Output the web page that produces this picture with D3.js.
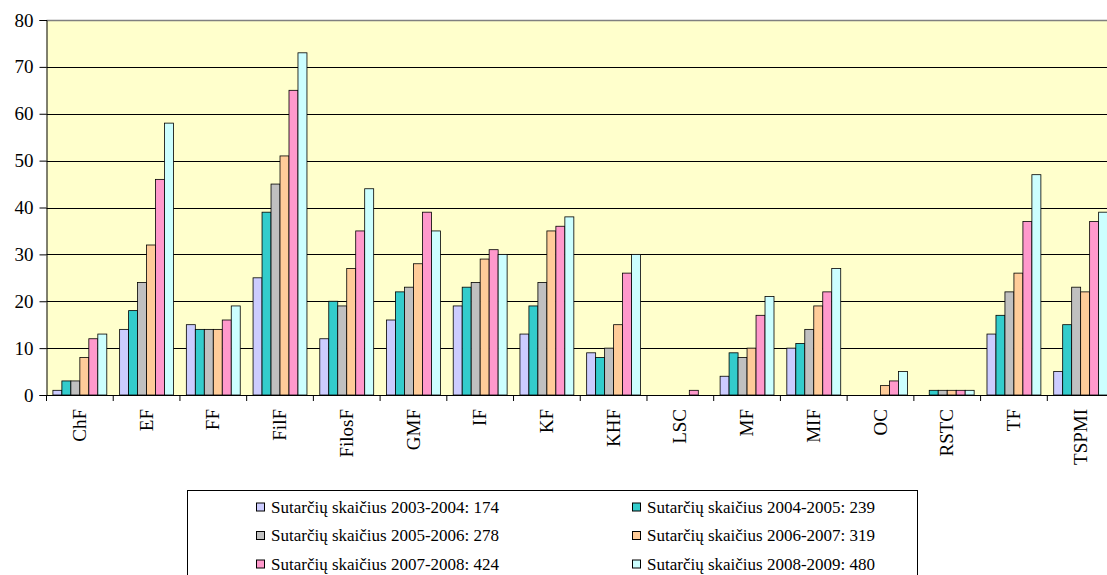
<!DOCTYPE html>
<html>
<head>
<meta charset="utf-8">
<script src="https://cdn.jsdelivr.net/npm/d3@7"></script>
<style>
  html, body { margin: 0; padding: 0; background: #fff; overflow: hidden; }
  svg { display: block; }
  svg text { font-family: 'Liberation Serif'; }
</style>
</head>
<body>
<div class="chart1"></div>
<script>
var categories = ["ChF", "EF", "FF", "FilF", "FilosF", "GMF", "IF", "KF", "KHF", "LSC", "MF", "MIF", "OC", "RSTC", "TF", "TSPMI"];
var s0304 = [1, 14, 15, 25, 12, 16, 19, 13, 9, 0, 4, 10, 0, 0, 13, 5];
var s0405 = [3, 18, 14, 39, 20, 22, 23, 19, 8, 0, 9, 11, 0, 1, 17, 15];
var s0506 = [3, 24, 14, 45, 19, 23, 24, 24, 10, 0, 8, 14, 0, 1, 22, 23];
var s0607 = [8, 32, 14, 51, 27, 28, 29, 35, 15, 0, 10, 19, 2, 1, 26, 22];
var s0708 = [12, 46, 16, 65, 35, 39, 31, 36, 26, 1, 17, 22, 3, 1, 37, 37];
var s0809 = [13, 58, 19, 73, 44, 35, 30, 38, 30, 0, 21, 27, 5, 1, 47, 39];
var seriesNames = ["2003-2004", "2004-2005", "2005-2006", "2006-2007", "2007-2008", "2008-2009"];
var legendLabels = [
  "Sutarčių skaičius 2003-2004: 174",
  "Sutarčių skaičius 2004-2005: 239",
  "Sutarčių skaičius 2005-2006: 278",
  "Sutarčių skaičius 2006-2007: 319",
  "Sutarčių skaičius 2007-2008: 424",
  "Sutarčių skaičius 2008-2009: 480"
];
var yTicks = [0, 10, 20, 30, 40, 50, 60, 70, 80];

var colors = ["#ccccff", "#33cccc", "#c0c0c0", "#ffcc99", "#ff99cc", "#ccffff"];
var seriesValues = [s0304, s0405, s0506, s0607, s0708, s0809];

var margin = { top: 20, left: 46.5 };
var width = 16 * 66.72;
var height = 375;
var serif = "Liberation Serif";

var xScale = d3.scaleBand().domain(categories).range([0, width]);
var xInner = d3.scaleBand().domain(seriesNames).range([6.4, 60.3]);
var yScale = d3.scaleLinear().domain([0, 80]).range([height, 0]);
var zScale = d3.scaleOrdinal().domain(seriesNames).range(colors);

var svg = d3.select(".chart1")
  .append("svg")
  .attr("width", 1107)
  .attr("height", 575);

var chart = svg.append("g")
  .attr("transform", "translate(" + margin.left + "," + margin.top + ")");

// plot area
chart.append("rect")
  .attr("width", width)
  .attr("height", height)
  .attr("fill", "#ffffcc");

// gridlines
chart.selectAll(".grid")
  .data(yTicks.filter(function (d) { return d > 0; }))
  .enter().append("line")
  .attr("class", "grid")
  .attr("x1", 0)
  .attr("x2", width)
  .attr("y1", function (d) { return Math.round(yScale(d)) + 0.5; })
  .attr("y2", function (d) { return Math.round(yScale(d)) + 0.5; })
  .attr("stroke", function (d) { return d === 80 ? "#808080" : "#000"; })
  .attr("stroke-width", function (d) { return d === 80 ? 1.5 : 1; });

// bars
var rows = categories.map(function (c, i) {
  return {
    category: c,
    values: seriesNames.map(function (s, j) { return { series: s, value: seriesValues[j][i] }; })
  };
});

var group = chart.selectAll(".group")
  .data(rows)
  .enter().append("g")
  .attr("class", "group")
  .attr("transform", function (d) { return "translate(" + xScale(d.category) + ",0)"; });

group.selectAll("rect")
  .data(function (d) { return d.values.filter(function (v) { return v.value > 0; }); })
  .enter().append("rect")
  .attr("x", function (d) { return xInner(d.series); })
  .attr("y", function (d) { return yScale(d.value); })
  .attr("width", xInner.bandwidth())
  .attr("height", function (d) { return height - yScale(d.value); })
  .attr("fill", function (d) { return zScale(d.series); })
  .attr("stroke", "#000")
  .attr("stroke-width", 0.8);

// y axis
var yAxis = chart.append("g")
  .attr("class", "axis axis--y")
  .call(d3.axisLeft(yScale).tickValues(yTicks).tickSize(7).tickPadding(6));
yAxis.attr("font-family", serif).attr("font-size", 19);
yAxis.select(".domain").attr("stroke", "#000");
yAxis.selectAll("text").attr("fill", "#000");

// x axis
var xAxis = chart.append("g")
  .attr("class", "axis axis--x")
  .attr("transform", "translate(0," + height + ")")
  .call(d3.axisBottom(xScale).tickSize(0).tickSizeOuter(0));
xAxis.attr("font-family", serif).attr("font-size", 19);
xAxis.select(".domain").attr("stroke", "#000");
xAxis.selectAll(".boundary")
  .data(categories)
  .enter().append("line")
  .attr("class", "boundary")
  .attr("x1", function (d) { return xScale(d); })
  .attr("x2", function (d) { return xScale(d); })
  .attr("y1", 0)
  .attr("y2", 6)
  .attr("stroke", "#000");
xAxis.selectAll(".tick text")
  .attr("transform", "rotate(-90)")
  .attr("x", -14)
  .attr("y", 0)
  .attr("dy", "0.32em")
  .style("text-anchor", "end")
  .attr("fill", "#000");

// legend
var legend = svg.append("g")
  .attr("class", "legend")
  .attr("font-family", serif)
  .attr("font-size", 17);
legend.append("rect")
  .attr("x", 187.5)
  .attr("y", 490.5)
  .attr("width", 730)
  .attr("height", 120)
  .attr("fill", "#fff")
  .attr("stroke", "#000");

var item = legend.selectAll(".item")
  .data(legendLabels)
  .enter().append("g")
  .attr("class", "item")
  .attr("transform", function (d, i) {
    return "translate(" + (i % 2 === 0 ? 256 : 632) + "," + (507 + Math.floor(i / 2) * 28.5) + ")";
  });

item.append("rect")
  .attr("x", 0.5)
  .attr("y", -4)
  .attr("width", 8)
  .attr("height", 8)
  .attr("fill", function (d, i) { return colors[i]; })
  .attr("stroke", "#000");

item.append("text")
  .attr("x", 15)
  .attr("dy", "0.35em")
  .text(function (d) { return d; });
</script>
</body>
</html>
